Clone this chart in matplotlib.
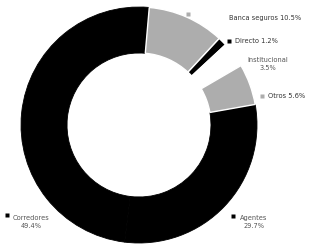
import numpy as np
import matplotlib.pyplot as plt

# Channel shares (%)
channels = ['Banca seguros', 'Directo', 'Institucional', 'Otros', 'Agentes', 'Corredores']
shares = [10.5, 1.2, 3.5, 5.6, 29.7, 49.4]
colors = ['#adadad', '#000000', '#ffffff', '#adadad', '#000000', '#000000']

# Label layout (pixel positions in the 317x246 image): marker x, marker y, text x, text y
label_pos = [
    (188, 14, 229, 18),
    (229, 41, 235, 41),
    (None, None, 268, 64),
    (262, 96, 268, 96),
    (233, 216, 254, 222),
    (7, 215, 31, 222),
]
multiline = [False, False, True, False, True, True]

cx, cy, r = 139, 125, 118
W, H = 317, 246

fig = plt.figure(figsize=(W / 100, H / 100), dpi=100)
ax = fig.add_axes([0, 0, 1, 1])

wedges, _ = ax.pie(shares, colors=colors, startangle=85, counterclock=False, radius=1.0,
                   wedgeprops=dict(width=0.39, edgecolor='white', linewidth=1.0))
# no seam between the two black channels; keep white gaps of the others on top
for w in wedges[4:]:
    w.set_edgecolor('black')
    w.set_linewidth(0.6)
    w.set_zorder(1)
for w in wedges[:4]:
    w.set_zorder(2)

ax.set_xlim(-cx / r, (W - cx) / r)
ax.set_ylim((cy - H) / r, cy / r)
ax.set_aspect('equal')
ax.axis('off')

def to_data(px, py):
    return (px - cx) / r, (cy - py) / r

for name, val, col, pos, ml in zip(channels, shares, colors, label_pos, multiline):
    mx, my, tx, ty = pos
    if mx is not None:
        x, y = to_data(mx, my)
        ax.plot(x, y, marker='s', ms=2.2, color=col, mec='none', zorder=3)
    x, y = to_data(tx, ty)
    pct = f"{val:.1f}%"
    if ml:
        ax.text(x, y, f"{name}\n{pct}", ha='center', va='center', fontsize=4.8,
                color='#555555', linespacing=1.4, zorder=3)
    else:
        ax.text(x, y, f"{name} {pct}", ha='left', va='center', fontsize=4.8,
                color='#333333', zorder=3)

fig.savefig('out.png', dpi=100)
